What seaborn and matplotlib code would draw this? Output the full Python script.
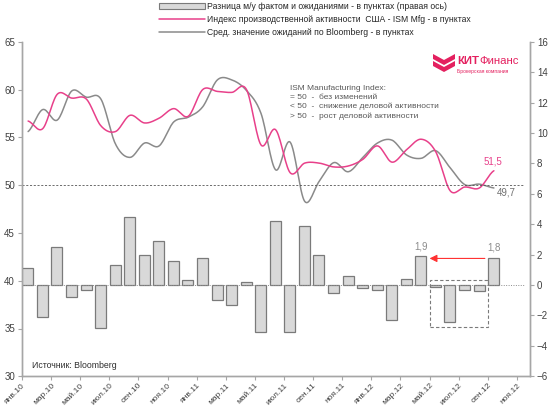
import numpy as np
import matplotlib
matplotlib.use("Agg")
import matplotlib.pyplot as plt
from matplotlib.patches import Rectangle, Polygon, Patch
from matplotlib.lines import Line2D
import seaborn as sns

# months: янв.10 ... сен.12
month_names = ["янв", "фев", "мар", "апр", "май", "июн",
               "июл", "авг", "сен", "окт", "ноя", "дек"]
years = ["10", "11", "12"]

# ISM Manufacturing (fact), left axis
ism = [56.7, 55.9, 59.5, 59.1, 59.0, 56.2, 55.6, 57.3, 56.5, 57.0, 58.0, 57.2,
       60.0, 59.8, 59.7, 60.0, 54.2, 55.8, 51.3, 52.3, 52.3, 51.9, 52.0, 52.7,
       54.1, 52.4, 53.7, 54.8, 53.5, 49.4, 49.8, 49.7, 51.5]
# Bloomberg consensus, left axis
consensus = [55.6, 57.9, 56.8, 59.85, 59.2, 59.0, 54.3, 52.9, 54.4, 54.1, 56.6, 57.1,
             58.2, 61.0, 61.0, 59.9, 57.5, 51.6, 54.5, 48.3, 50.4, 52.35, 51.4, 52.9,
             54.4, 54.7, 53.15, 52.8, 53.6, 51.8, 50.05, 50.1, 49.7]
# fact minus expectation, right axis
surprise = [1.1, -2.1, 2.5, -0.8, -0.3, -2.8, 1.3, 4.5, 2.0, 2.9, 1.6, 0.3,
            1.8, -1.0, -1.3, 0.2, -3.1, 4.2, -3.1, 3.9, 2.0, -0.5, 0.6, -0.2,
            -0.3, -2.3, 0.4, 1.9, -0.1, -2.4, -0.3, -0.4, 1.8]

legend_labels = ["Разница м/у фактом и ожиданиями - в пунктах (правая ось)",
                 "Индекс производственной активности  США - ISM Mfg - в пунктах",
                 "Сред. значение ожиданий по Bloomberg - в пунктах"]
note_lines = ["ISM Manufacturing Index:",
              "= 50  -  без изменений",
              "< 50  -  снижение деловой активности",
              "> 50  -  рост деловой активности"]

PINK = "#e8408a"
GRAY = "#8a8a8a"
BAR = "#d9d9d9"
BAR_EDGE = "#7a7a7a"
AXIS = "#a6a6a6"
TXT = "#404040"


def smooth(x, y, n=16):
    # excel-like smoothed line (catmull-rom)
    x = np.asarray(x, float)
    y = np.asarray(y, float)
    px = np.concatenate([[2 * x[0] - x[1]], x, [2 * x[-1] - x[-2]]])
    py = np.concatenate([[y[0]], y, [y[-1]]])
    xs, ys = [], []
    t = np.linspace(0, 1, n, endpoint=False)
    for i in range(1, len(px) - 2):
        p0, p1, p2, p3 = py[i - 1], py[i], py[i + 1], py[i + 2]
        m1 = (p2 - p0) / 2.0
        m2 = (p3 - p1) / 2.0
        h00 = 2 * t**3 - 3 * t**2 + 1
        h10 = t**3 - 2 * t**2 + t
        h01 = -2 * t**3 + 3 * t**2
        h11 = t**3 - t**2
        xs.append(px[i] + t * (px[i + 1] - px[i]))
        ys.append(h00 * p1 + h10 * m1 + h01 * p2 + h11 * m2)
    xs.append([x[-1]])
    ys.append([y[-1]])
    return np.concatenate(xs), np.concatenate(ys)


sns.set_style("white")
plt.rcParams["font.family"] = ["Liberation Sans", "DejaVu Sans"]

W, H = 550, 412
fig = plt.figure(figsize=(5.5, 4.12), dpi=100)
ax = fig.add_axes([22 / W, 1 - 376.3 / H, (530 - 22) / W, (376.3 - 41.7) / H])
ax2 = ax.twinx()


def fx(px):
    return px / W


def fy(py):
    return 1 - py / H


n = len(ism)
line_x = np.arange(n) + 0.42
bar_x = np.arange(n) + 0.4

# bars on right axis
sns.barplot(x=bar_x, y=surprise, native_scale=True, width=0.75, color=BAR,
            saturation=1, edgecolor=BAR_EDGE, linewidth=0.9, errorbar=None, ax=ax2)
ax2.hlines(0, 0, 34.5, colors="#8c8c8c", linestyles=(0, (1, 1.5)), linewidth=0.7)

# lines on left axis
sx, sy = smooth(line_x, consensus)
sns.lineplot(x=sx, y=sy, color=GRAY, linewidth=1.1, sort=False, ax=ax)
sx, sy = smooth(line_x, ism)
sns.lineplot(x=sx, y=sy, color=PINK, linewidth=1.1, sort=False, ax=ax)
ax.hlines(50, 0, 34.5, colors="#555555", linestyles=(0, (2.5, 2)), linewidth=0.6)

ax.set_xlim(0, 34.9)
ax2.set_xlim(0, 34.9)
ax.set_ylim(30, 65)
ax2.set_ylim(-6, 16)
ax.set_yticks(np.arange(30, 66, 5))
ax2.set_yticks(np.arange(-6, 17, 2))

ticks = list(range(0, 35, 2))
tick_labels = [month_names[i % 12] + "." + years[i // 12] for i in ticks]
ax.set_xticks(ticks)
ax.set_xticklabels(tick_labels, rotation=45, ha="right", va="top",
                   rotation_mode="anchor", fontsize=6.0, color=TXT)
ax2.set_xticks(ticks)

for a in (ax, ax2):
    for side in ("left", "right", "bottom"):
        a.spines[side].set_color(AXIS)
        a.spines[side].set_linewidth(1.0)
    a.spines["top"].set_visible(False)
    a.tick_params(length=3, width=0.8, color=AXIS, labelsize=7, labelcolor=TXT, pad=2)
    a.grid(False)
ax.tick_params(axis="y", left=True, right=False)
ax.tick_params(axis="x", bottom=True, pad=1, labelsize=6.0)
ax2.tick_params(axis="y", right=True, left=False)
ax2.set_ylabel("")
ax.set_ylabel("")
ax2.set_xlabel("")

# value labels
ax.text(32.35, 52.45, "51,5", color=PINK, fontsize=7, ha="center", va="center")
ax.text(33.3, 49.2, "49,7", color="#707070", fontsize=7, ha="center", va="center")
ax2.text(27.4, 2.55, "1,9", color="#8c8c8c", fontsize=7, ha="center", va="center")
ax2.text(32.4, 2.5, "1,8", color="#8c8c8c", fontsize=7, ha="center", va="center")

# arrow and dashed box
ax2.annotate("", xy=(28.0, 1.75), xytext=(31.8, 1.75),
             arrowprops=dict(arrowstyle="-|>", color="#ff3030", lw=0.8,
                             mutation_scale=11, shrinkA=0, shrinkB=0))
ax2.add_patch(Rectangle((28.0, -2.76), 4.0, 3.1, fill=False, edgecolor="#7a7a7a",
                        linestyle=(0, (3, 2)), linewidth=0.8))

# notes
for k, s in enumerate(note_lines):
    fig.text(fx(290), fy(88 + 9.3 * k), s, fontsize=6.0, color="#595959",
             ha="left", va="center")
fig.text(fx(32), fy(366), "Источник: Bloomberg", fontsize=6.3, color="#303030",
         ha="left", va="center")

# logo
LOGO = "#e4205f"
top = [(433, 54), (444, 60), (455, 54), (455, 59), (444, 65), (433, 59)]
low = [(433, 61), (444, 67), (455, 61), (455, 66), (444, 72), (433, 66)]
for poly in (top, low):
    fig.patches.append(Polygon([(fx(a), fy(b)) for a, b in poly], closed=True,
                               facecolor=LOGO, edgecolor="none",
                               transform=fig.transFigure, figure=fig))
t1 = fig.text(fx(457), fy(61), "КИТ", fontsize=8.2, fontweight="bold",
              color=LOGO, ha="left", va="center")
fig.canvas.draw()
bb = t1.get_window_extent()
fig.text(bb.x1 / fig.bbox.width, fy(61), "Финанс", fontsize=8.2, color=LOGO,
         ha="left", va="center")
fig.text(fx(457), fy(72), "Брокерская компания", fontsize=3.6, color=LOGO,
         ha="left", va="center")

# legend
handles = [Patch(facecolor=BAR, edgecolor=BAR_EDGE, linewidth=0.8),
           Line2D([], [], color=PINK, lw=1.1),
           Line2D([], [], color=GRAY, lw=1.1)]
fig.legend(handles, legend_labels, loc="upper left", bbox_to_anchor=(fx(158), fy(1)),
           frameon=False, fontsize=6.2, handlelength=5.3, handleheight=0.7,
           handletextpad=0.3, labelspacing=0.45, borderpad=0.1, borderaxespad=0)

fig.savefig("out.png", dpi=100)
